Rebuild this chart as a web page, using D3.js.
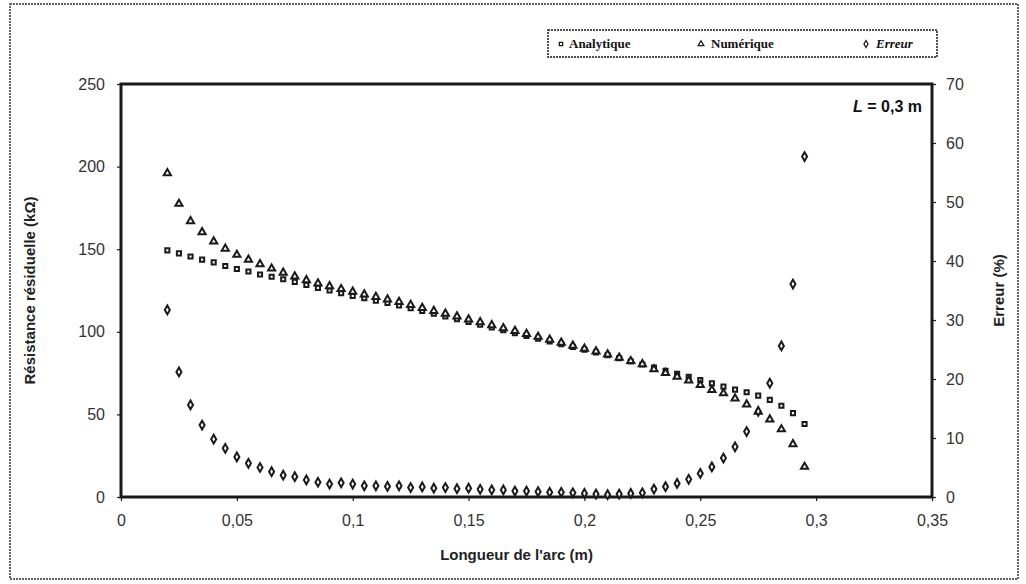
<!DOCTYPE html>
<html>
<head>
<meta charset="utf-8">
<script src="https://cdn.jsdelivr.net/npm/d3@7"></script>
<style>
  body { margin: 0; background: #fff; }
  svg { display: block; }
</style>
</head>
<body>
<div id="chart"></div>
<script>
// arc length (m)
var longueur = [0.02, 0.025, 0.03, 0.035, 0.04, 0.045, 0.05, 0.055, 0.06, 0.065,
  0.07, 0.075, 0.08, 0.085, 0.09, 0.095, 0.1, 0.105, 0.11, 0.115,
  0.12, 0.125, 0.13, 0.135, 0.14, 0.145, 0.15, 0.155, 0.16, 0.165,
  0.17, 0.175, 0.18, 0.185, 0.19, 0.195, 0.2, 0.205, 0.21, 0.215,
  0.22, 0.225, 0.23, 0.235, 0.24, 0.245, 0.25, 0.255, 0.26, 0.265,
  0.27, 0.275, 0.28, 0.285, 0.29, 0.295];

// residual resistance (kOhm)
var analytique = [149.3, 147.5, 145.6, 143.7, 142.0, 139.8, 138.0, 136.5, 134.7, 133.3,
  131.8, 130.2, 128.4, 126.6, 125.0, 123.3, 121.7, 120.3, 118.9, 117.5,
  116.0, 114.3, 112.6, 110.9, 109.3, 107.6, 105.9, 104.3, 102.6, 100.9,
  99.2, 97.5, 95.9, 94.2, 92.5, 90.8, 89.1, 87.5, 85.8, 84.0,
  82.0, 80.2, 78.3, 76.4, 74.5, 72.7, 70.8, 68.8, 66.8, 65.0,
  63.4, 61.4, 58.8, 55.2, 50.8, 44.2];

var numerique = [196.0, 177.5, 167.0, 160.3, 154.7, 150.3, 146.6, 143.7, 141.0, 138.3,
  135.8, 133.5, 131.3, 129.3, 127.6, 125.9, 124.3, 122.6, 121.1, 119.6,
  118.1, 116.3, 114.5, 112.7, 111.0, 109.3, 107.5, 105.8, 104.0, 102.2,
  100.5, 98.7, 97.0, 95.2, 93.4, 91.6, 89.8, 88.1, 86.3, 84.3,
  82.3, 80.4, 77.3, 75.1, 72.8, 70.5, 67.8, 64.8, 62.8, 59.7,
  56.0, 51.6, 47.0, 41.0, 32.0, 18.3];

// error (%)
var erreur = [31.7, 21.2, 15.6, 12.2, 9.8, 8.25, 6.8, 5.7, 5.0, 4.3,
  3.7, 3.45, 2.9, 2.5, 2.2, 2.4, 2.2, 1.9, 1.9, 1.8,
  1.9, 1.6, 1.7, 1.5, 1.6, 1.4, 1.5, 1.3, 1.2, 1.2,
  1.0, 1.0, 0.9, 0.8, 0.8, 0.7, 0.6, 0.5, 0.4, 0.5,
  0.6, 0.7, 1.35, 1.75, 2.3, 3.0, 4.0, 5.1, 6.6, 8.5,
  11.1, 14.5, 19.3, 25.6, 36.1, 57.7];

var xTicks = [0, 0.05, 0.1, 0.15, 0.2, 0.25, 0.3, 0.35];
var yLeftTicks = [0, 50, 100, 150, 200, 250];
var yRightTicks = [0, 10, 20, 30, 40, 50, 60, 70];

var w = 1026, h = 584;
var pLeft = 121, pRight = 932, pTop = 84, pBottom = 497;
var ink = "#1a1a1a";

var svg = d3.select("#chart").append("svg")
  .attr("width", w)
  .attr("height", h);

// outer dotted frame
svg.append("rect")
  .attr("x", 10).attr("y", 4)
  .attr("width", 1008).attr("height", 575)
  .attr("fill", "none")
  .attr("stroke", "#333")
  .attr("stroke-width", 1.5)
  .attr("stroke-dasharray", "2,1");

var x = d3.scaleLinear().domain([0, 0.35]).range([pLeft, pRight]);
var yL = d3.scaleLinear().domain([0, 250]).range([pBottom, pTop]);
var yR = d3.scaleLinear().domain([0, 70]).range([pBottom, pTop]);

var fmt = function(d) { return String(+d.toFixed(2)).replace(".", ","); };

// axes
var xAxis = svg.append("g")
  .attr("transform", "translate(0," + pBottom + ")")
  .call(d3.axisBottom(x).tickValues(xTicks).tickFormat(fmt).tickSize(4).tickPadding(14));
var yAxisL = svg.append("g")
  .attr("transform", "translate(" + pLeft + ",0)")
  .call(d3.axisLeft(yL).tickValues(yLeftTicks).tickSize(4).tickPadding(12));
var yAxisR = svg.append("g")
  .attr("transform", "translate(" + pRight + ",0)")
  .call(d3.axisRight(yR).tickValues(yRightTicks).tickSize(4).tickPadding(10));

[xAxis, yAxisL, yAxisR].forEach(function(g) {
  g.select(".domain").remove();
  g.selectAll(".tick line").attr("stroke", ink).attr("stroke-width", 1.2);
  g.selectAll(".tick text")
    .attr("font-family", "Liberation Sans, Arial, sans-serif")
    .attr("font-size", "16px")
    .attr("fill", "#333");
});

// plot frame (thick)
svg.append("rect")
  .attr("x", pLeft).attr("y", pTop)
  .attr("width", pRight - pLeft).attr("height", pBottom - pTop)
  .attr("fill", "none")
  .attr("stroke", ink)
  .attr("stroke-width", 3);

// axis titles
svg.append("text")
  .attr("transform", "translate(35," + ((pTop + pBottom) / 2) + ") rotate(-90)")
  .attr("text-anchor", "middle")
  .attr("font-family", "Liberation Sans, Arial, sans-serif")
  .attr("font-weight", "bold")
  .attr("font-size", "15px")
  .attr("fill", "#222")
  .text("Résistance résiduelle (kΩ)");

svg.append("text")
  .attr("transform", "translate(1004," + ((pTop + pBottom) / 2) + ") rotate(-90)")
  .attr("text-anchor", "middle")
  .attr("font-family", "Liberation Sans, Arial, sans-serif")
  .attr("font-weight", "bold")
  .attr("font-size", "15px")
  .attr("fill", "#222")
  .text("Erreur (%)");

svg.append("text")
  .attr("x", (pLeft + pRight) / 2 - 10)
  .attr("y", 560)
  .attr("text-anchor", "middle")
  .attr("font-family", "Liberation Sans, Arial, sans-serif")
  .attr("font-weight", "bold")
  .attr("font-size", "15px")
  .attr("fill", "#222")
  .text("Longueur de l'arc (m)");

// L = 0,3 m
var lab = svg.append("text")
  .attr("x", 922).attr("y", 112)
  .attr("text-anchor", "end")
  .attr("font-family", "Liberation Sans, Arial, sans-serif")
  .attr("font-weight", "bold")
  .attr("font-size", "16px")
  .attr("fill", "#111");
lab.append("tspan").attr("font-style", "italic").text("L");
lab.append("tspan").text(" = 0,3 m");

// markers
var symAna = d3.symbol().type(d3.symbolSquare).size(17);
var symNum = d3.symbol().type(d3.symbolTriangle).size(22);
var symErr = d3.symbol().type(d3.symbolDiamond).size(22);

function drawSeries(vals, scale, sym, cls) {
  svg.append("g").attr("class", cls)
    .selectAll("path")
    .data(vals)
    .join("path")
    .attr("transform", function(d, i) { return "translate(" + x(longueur[i]) + "," + scale(d) + ")"; })
    .attr("d", sym)
    .attr("fill", "#fff")
    .attr("stroke", ink)
    .attr("stroke-width", 2);
}

drawSeries(analytique, yL, symAna, "ana");
drawSeries(numerique, yL, symNum, "num");
drawSeries(erreur, yR, symErr, "err");

// legend
var leg = svg.append("g");
leg.append("rect")
  .attr("x", 548).attr("y", 30)
  .attr("width", 389).attr("height", 27)
  .attr("fill", "#fff")
  .attr("stroke", ink)
  .attr("stroke-width", 1.5)
  .attr("stroke-dasharray", "2,1");

var legItems = [
  { label: "Analytique", sym: symAna, mx: 561, tx: 569, italic: false },
  { label: "Numérique", sym: symNum, mx: 701, tx: 711, italic: false },
  { label: "Erreur", sym: symErr, mx: 866, tx: 876, italic: true }
];
legItems.forEach(function(it) {
  leg.append("path")
    .attr("transform", "translate(" + it.mx + ",44) scale(0.8)")
    .attr("d", it.sym)
    .attr("fill", "#fff")
    .attr("stroke", ink)
    .attr("stroke-width", 1.6);
  leg.append("text")
    .attr("x", it.tx).attr("y", 48)
    .attr("font-family", "Liberation Serif, Times New Roman, serif")
    .attr("font-weight", "bold")
    .attr("font-style", it.italic ? "italic" : "normal")
    .attr("font-size", "13px")
    .attr("fill", "#111")
    .text(it.label);
});
</script>
</body>
</html>
